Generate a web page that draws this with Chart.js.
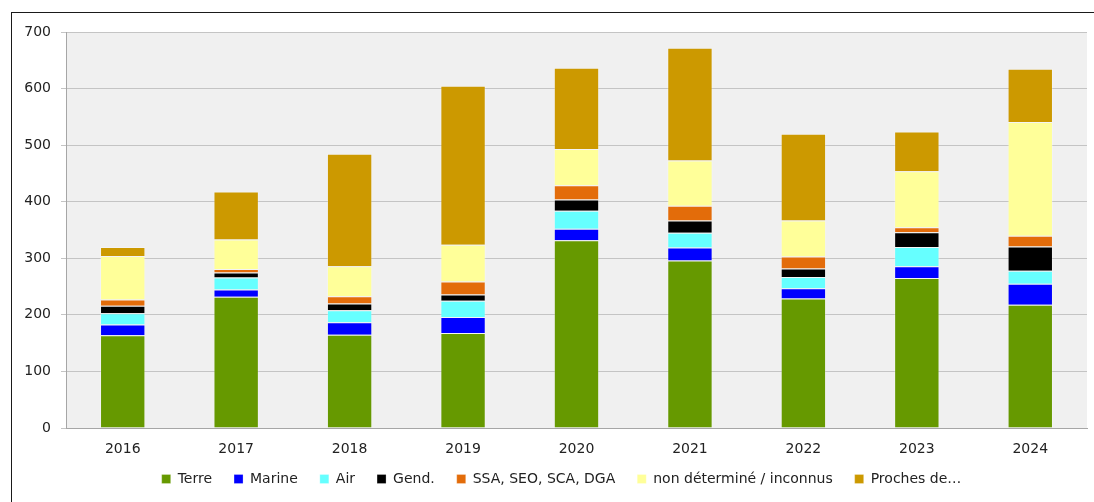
<!DOCTYPE html>
<html>
<head>
<meta charset="utf-8">
<script src="https://cdn.jsdelivr.net/npm/chart.js@4.4.1/dist/chart.umd.min.js"></script>
<style>
    html, body { margin: 0; padding: 0; background: #fff; }
    #wrap { position: relative; width: 1094px; height: 502px; overflow: hidden; }
    #frame { position: absolute; left: 11px; top: 12px; width: 1200px; height: 600px; border: 1px solid #1a1a1a; pointer-events: none; }
    canvas { position: absolute; left: 0; top: 0; }
</style>
</head>
<body>
<div id="wrap">
    <canvas id="effectifsChart" width="1094" height="502"></canvas>
    <div id="frame"></div>
</div>
<script>
// données
const annees = ['2016', '2017', '2018', '2019', '2020', '2021', '2022', '2023', '2024'];
const terre = [164, 232, 165, 168, 332, 296, 229, 265, 218];
const marine = [19, 13, 22, 28, 20, 23, 18, 21, 37];
const air = [20, 21, 21, 29, 32, 26, 20, 34, 23];
const gend = [13, 9, 12, 11, 20, 22, 15, 26, 43];
const ssa = [11, 6, 13, 23, 25, 26, 21, 9, 19];
const nonDetermine = [77, 52, 53, 65, 64, 80, 64, 99, 201];
const proches = [16, 85, 199, 281, 144, 199, 153, 70, 94];
const yTicks = [0, 100, 200, 300, 400, 500, 600, 700];

const couleurs = ['#669900', '#0000ff', '#66ffff', '#000000', '#e36c0a', '#ffff99', '#cc9900'];
const libelles = ['Terre', 'Marine', 'Air', 'Gend.', 'SSA, SEO, SCA, DGA', 'non déterminé / inconnus', 'Proches de…'];
const series = [terre, marine, air, gend, ssa, nonDetermine, proches];

const plotBackground = {
    id: 'plotBackground',
    beforeDraw(chart) {
        const { ctx, chartArea: a } = chart;
        ctx.save();
        ctx.fillStyle = '#f0f0f0';
        ctx.fillRect(a.left, a.top, a.right - a.left, a.bottom - a.top);
        ctx.restore();
    }
};

// recentre la légende comme sur l'original
const legendShift = {
    id: 'legendShift',
    afterLayout(chart) {
        const lg = chart.legend;
        if (!lg) return;
        lg.left = 36;
        lg.top -= 6;
        lg.bottom -= 6;
    }
};

const font = { family: '"DejaVu Sans", sans-serif', size: 14 };

const ctx = document.getElementById('effectifsChart').getContext('2d');
new Chart(ctx, {
    type: 'bar',
    data: {
        labels: annees,
        datasets: series.map((data, i) => ({
            label: libelles[i],
            data,
            backgroundColor: couleurs[i],
            borderColor: 'rgba(255,255,255,0.25)',
            borderWidth: 1,
            barPercentage: 0.4,
            categoryPercentage: 1.0
        }))
    },
    options: {
        responsive: false,
        animation: false,
        layout: { padding: { left: 0, right: 7, top: 32, bottom: 0 } },
        scales: {
            x: {
                stacked: true,
                grid: { display: false, drawTicks: false },
                border: { display: true, color: '#a6a6a6', width: 1 },
                ticks: { color: '#222', font, padding: 13 },
                afterFit: scale => { scale.height = 28; }
            },
            y: {
                stacked: true,
                min: 0,
                max: 700,
                afterBuildTicks: scale => { scale.ticks = yTicks.map(v => ({ value: v })); },
                grid: { color: '#c4c4c4', lineWidth: 1, tickLength: 5 },
                border: { color: '#a6a6a6', width: 1 },
                ticks: { color: '#222', font, padding: 10 },
                afterFit: scale => { scale.width = 66; }
            }
        },
        plugins: {
            legend: {
                display: true,
                position: 'bottom',
                labels: { boxWidth: 9, boxHeight: 9, padding: 22, color: '#222', font }
            },
            tooltip: { enabled: false }
        }
    },
    plugins: [plotBackground, legendShift]
});
</script>
</body>
</html>
